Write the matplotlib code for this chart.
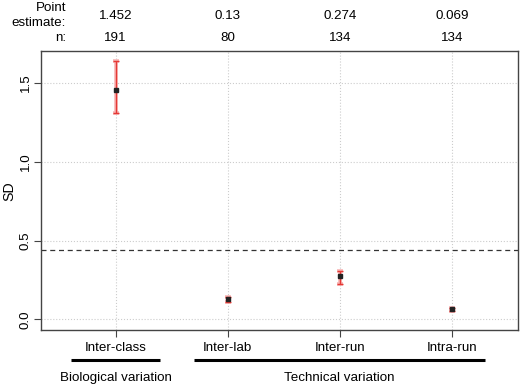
import numpy as np
import matplotlib.pyplot as plt
import matplotlib.transforms as mtransforms

plt.rcParams['font.family'] = ['Liberation Sans', 'DejaVu Sans']

categories = ['Inter-class', 'Inter-lab', 'Inter-run', 'Intra-run']
estimates = [1.452, 0.13, 0.274, 0.069]
lower = [1.31, 0.112, 0.226, 0.053]
upper = [1.637, 0.142, 0.31, 0.074]
n_values = [191, 80, 134, 134]
threshold = 0.44
groups = [('Biological variation', 0.6, 1.4), ('Technical variation', 1.7, 4.3)]

W, H = 529, 387
fs = 9.6
fig = plt.figure(figsize=(W / 100, H / 100), dpi=100)
ax = fig.add_axes([0.078, 0.146, 0.901, 0.722])

x = np.arange(1, len(categories) + 1)
est = np.array(estimates)
yerr = [est - np.array(lower), np.array(upper) - est]

ax.errorbar(x, est, yerr=yerr, fmt='none', ecolor='#f7b5b5', elinewidth=2.6,
            capsize=2.5, capthick=2.6, zorder=3)
ax.errorbar(x, est, yerr=yerr, fmt='none', ecolor='#e53935', elinewidth=1.0,
            capsize=2.5, capthick=1.0, zorder=4)
ax.plot(x, est, 's', color='#222222', markersize=2.2, zorder=5)
ax.axhline(threshold, color='#333333', linestyle=(0, (4, 3)), linewidth=0.9)

ax.set_xlim(0.336, 4.59)
ax.set_ylim(-0.07, 1.70)
ax.set_xticks(x)
ax.set_xticklabels(categories, fontsize=fs)
ax.set_yticks([0.0, 0.5, 1.0, 1.5])
ax.set_yticklabels(['0.0', '0.5', '1.0', '1.5'], rotation=90, va='center', fontsize=fs)
ax.set_ylabel('SD', fontsize=fs + 0.6)
ax.yaxis.set_label_coords(-0.052, 0.5)
ax.grid(True, color='#cccccc', linestyle=':', linewidth=0.8)
ax.set_axisbelow(True)
for s in ax.spines.values():
    s.set_color('#444444')
    s.set_linewidth(1.0)
ax.tick_params(direction='out', length=5, color='#444444', width=0.8)
ax.tick_params(axis='x', pad=3)
ax.tick_params(axis='y', pad=2)

# header rows above the plot (x in data units, y in figure fraction)
trans = mtransforms.blended_transform_factory(ax.transData, fig.transFigure)
for xi, e, n in zip(x, estimates, n_values):
    ax.text(xi, 1 - 16 / H, f'{e:g}', transform=trans, ha='center', va='center', fontsize=fs)
    ax.text(xi, 1 - 38 / H, str(n), transform=trans, ha='center', va='center', fontsize=fs)
fig.text(66 / W, 1 - 15.5 / H, 'Point\nestimate:', ha='right', va='center',
         fontsize=fs, linespacing=1.4)
fig.text(66 / W, 1 - 38 / H, 'n:', ha='right', va='center', fontsize=fs)

# group brackets below the axis
for label, x0, x1 in groups:
    ax.plot([x0, x1], [1 - 360 / H] * 2, transform=trans, color='black',
            linewidth=2.2, clip_on=False, solid_capstyle='butt')
    ax.text((x0 + x1) / 2, 1 - 378 / H, label, transform=trans, ha='center',
            va='center', fontsize=fs)

fig.savefig('out.png', dpi=100)
